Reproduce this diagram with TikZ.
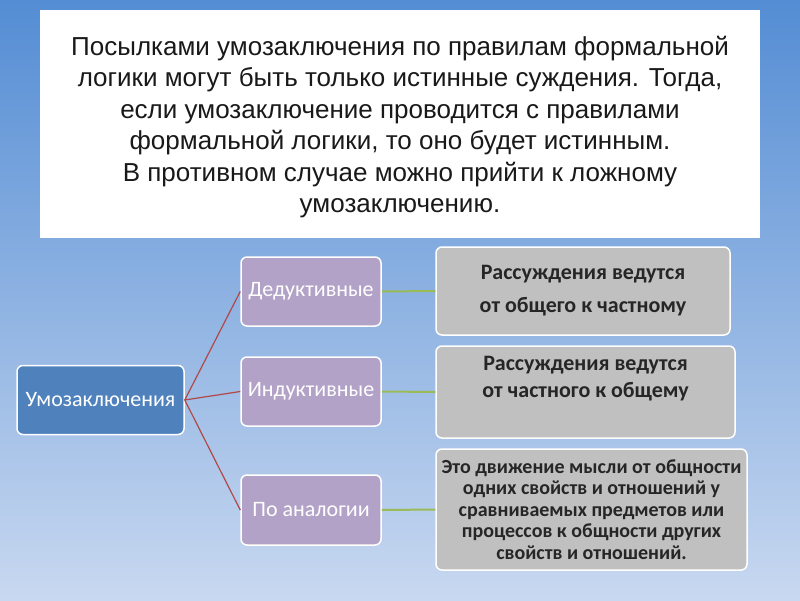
\documentclass[tikz,border=0pt]{standalone}
\usepackage{fontspec}
\setmainfont{Liberation Sans}
\newfontfamily\calib{Carlito}
\definecolor{bgtop}{RGB}{84,141,212}
\definecolor{bgmid}{RGB}{172,196,234}
\definecolor{bgbot}{RGB}{200,216,240}
\definecolor{rootblue}{RGB}{79,129,189}
\definecolor{kindviolet}{RGB}{179,162,199}
\definecolor{notegray}{RGB}{192,192,192}
\definecolor{linkred}{RGB}{176,72,72}
\definecolor{linkgreen}{RGB}{155,187,89}
\tikzstyle{box}=[draw=white, line width=1.5pt, rounded corners=6pt, align=center, inner sep=2pt]
\tikzstyle{rootbox}=[box, fill=rootblue, text=white, font=\calib\fontsize{22}{26}\selectfont]
\tikzstyle{kindbox}=[box, fill=kindviolet, text=white, font=\calib\fontsize{22}{26}\selectfont]
\tikzstyle{notebox}=[box, fill=notegray, text=black!85, font=\calib\bfseries\fontsize{22}{27}\selectfont]
\tikzstyle{redlink}=[linkred, line width=1.2pt]
\tikzstyle{greenlink}=[linkgreen, line width=2pt]

\begin{document}
\begin{tikzpicture}[x=1pt, y=-1pt]
% Background
    \shade[top color=bgtop, middle color=bgmid, bottom color=bgbot] (0,0) rectangle (800,600);
    \useasboundingbox (0,0) rectangle (800,600);
% Title
    \fill[white] (40,10) rectangle (760,238);
    \node[align=center, text=black!90, font=\fontsize{26}{31.5}\selectfont] (title) at (400,127)
        {Посылками умозаключения по правилам формальной\\
         логики могут быть только истинные суждения. Тогда,\\
         если умозаключение проводится с правилами\\
         формальной логики, то оно будет истинным.\\
         В противном случае можно прийти к ложному\\
         умозаключению.};
% Boxes
    \node[rootbox, minimum width=167pt, minimum height=69pt] (root) at (100.5,400) {Умозаключения};
    \node[kindbox, minimum width=140pt, minimum height=69pt] (ded) at (311,291.5) {Дедуктивные};
    \node[kindbox, minimum width=140pt, minimum height=69pt] (ind) at (311,391.5) {Индуктивные};
    \node[kindbox, minimum width=140pt, minimum height=70pt] (ana) at (311,510) {По аналогии};
    \node[notebox, minimum width=294pt, minimum height=88pt] (dednote) at (583,291)
        {Рассуждения ведутся\\[6pt] от общего к частному};
    \node[notebox, minimum width=299pt, minimum height=92pt] (indnote) at (585.5,392)
        {Рассуждения ведутся\\ от частного к общему\\[-5pt] \strut};
    \node[notebox, minimum width=311pt, minimum height=121pt,
          font=\calib\bfseries\fontsize{20}{21.5}\selectfont] (ananote) at (591.5,509.5)
        {Это движение мысли от общности\\ одних свойств и отношений у\\ сравниваемых предметов или\\
         процессов к общности других\\ свойств и отношений.};
% Links
    \draw[redlink] (root.east) -- (ded.west);
    \draw[redlink] (root.east) -- (ind.west);
    \draw[redlink] (root.east) -- (ana.west);
    \draw[greenlink] (ded.east) -- (dednote.west);
    \draw[greenlink] (ind.east) -- (indnote.west);
    \draw[greenlink] (ana.east) -- (ananote.west);
\end{tikzpicture}
\end{document}
